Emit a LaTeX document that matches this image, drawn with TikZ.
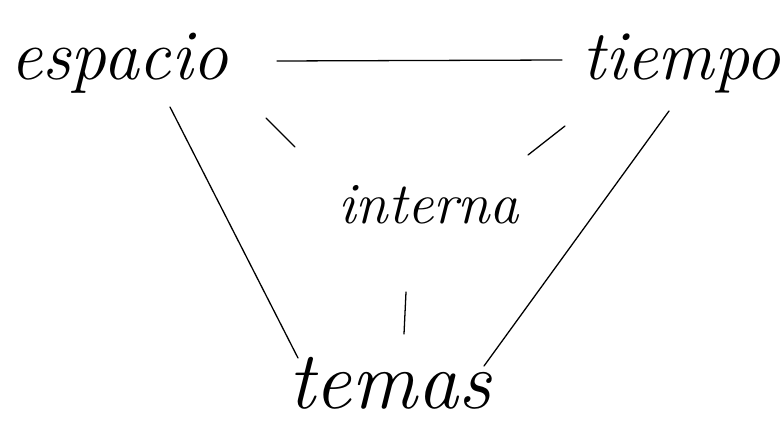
\documentclass[tikz,border=0pt]{standalone}
\begin{document}
\begin{tikzpicture}[x=0.03cm,y=-0.03cm,
  word/.style={inner sep=0pt,anchor=base west,font=\itshape},
  link/.style={line width=1.1pt,line cap=round}]
\useasboundingbox (0,0) rectangle (784,425);
\node[word,font=\itshape\fontsize{61}{64}\selectfont] (esp) at (10,80) {espacio};
\node[word,font=\itshape\fontsize{60}{64}\selectfont] (tie) at (582,80) {tiempo};
\node[word,font=\itshape\fontsize{50}{54}\selectfont] (int) at (338,223) {interna};
\node[word,font=\itshape\fontsize{70}{74}\selectfont] (tem) at (288,408) {temas};
\coordinate (et1) at (277,61); \coordinate (et2) at (562,60);
\coordinate (em1) at (170,107); \coordinate (em2) at (298,358);
\coordinate (tm1) at (669,111); \coordinate (tm2) at (484,366);
\coordinate (d1a) at (266,118); \coordinate (d1b) at (295,147);
\coordinate (d2a) at (565,126); \coordinate (d2b) at (528,155);
\coordinate (d3a) at (406,292); \coordinate (d3b) at (404,334);
\draw[link] (et1) -- (et2);
\draw[link] (em1) -- (em2);
\draw[link] (tm1) -- (tm2);
\draw[link] (d1a) -- (d1b);
\draw[link] (d2a) -- (d2b);
\draw[link] (d3a) -- (d3b);
\end{tikzpicture}
\end{document}
